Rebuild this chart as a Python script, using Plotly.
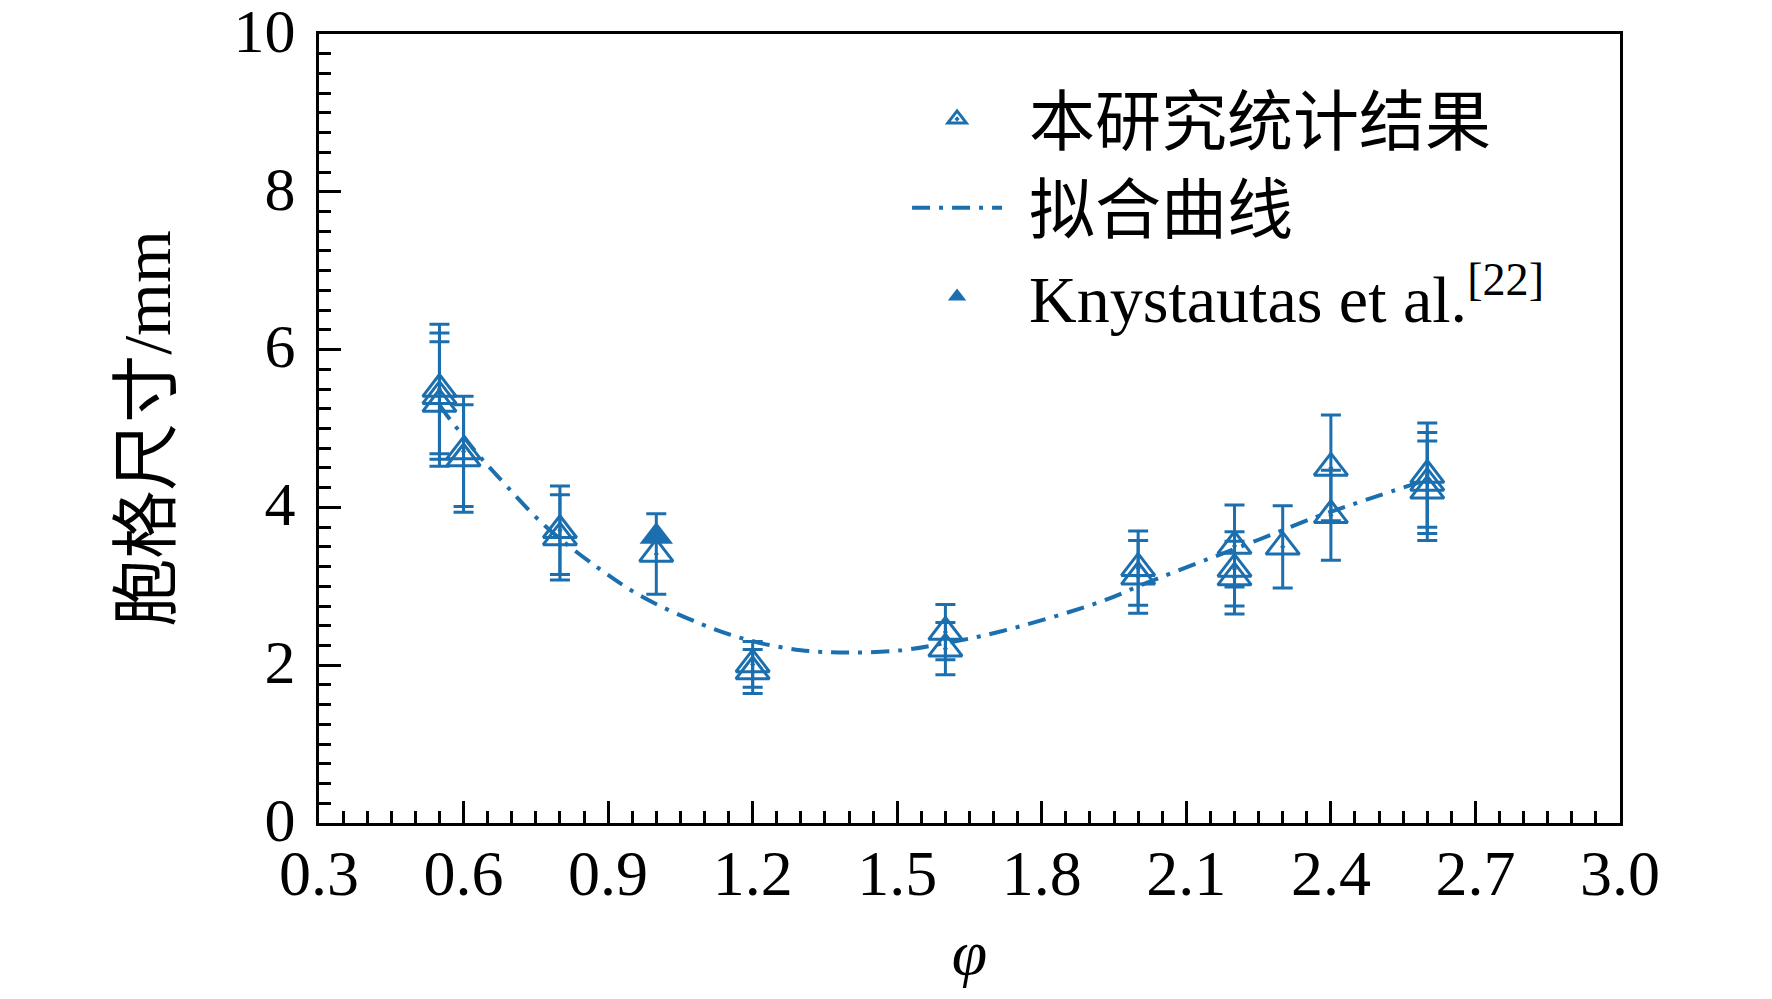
import plotly.graph_objects as go

# 本研究统计结果 (open triangles with error bars)
phi_exp = [0.55, 0.55, 0.55, 0.6, 0.6, 0.8, 0.8, 1.0, 1.2, 1.2, 1.6, 1.6,
           2.0, 2.0, 2.2, 2.2, 2.2, 2.3, 2.4, 2.4, 2.6, 2.6, 2.6]
cell_exp = [5.50, 5.41, 5.31, 4.71, 4.62, 3.71, 3.62, 3.41, 2.01, 1.92, 2.42, 2.21,
            3.23, 3.12, 3.51, 3.22, 3.11, 3.50, 4.50, 3.90, 4.41, 4.31, 4.21]
err_exp = [0.82, 0.80, 0.79, 0.70, 0.68, 0.56, 0.54, 0.51, 0.29, 0.28, 0.35, 0.33,
           0.47, 0.46, 0.52, 0.47, 0.46, 0.52, 0.67, 0.57, 0.66, 0.64, 0.63]

# 拟合曲线
phi_fit = [0.55, 0.57, 0.60, 0.63, 0.67, 0.77, 0.88, 0.97, 1.09, 1.19, 1.30,
           1.40, 1.51, 1.60, 1.71, 1.92, 2.02, 2.13, 2.25, 2.37, 2.47, 2.60]
cell_fit = [5.30, 5.13, 4.90, 4.67, 4.40, 3.76, 3.23, 2.87, 2.53, 2.32, 2.19,
            2.16, 2.19, 2.28, 2.42, 2.80, 3.05, 3.31, 3.59, 3.88, 4.09, 4.35]

# Knystautas et al. [22]
phi_ref = [1.0]
cell_ref = [3.63]

x_ticks = [0.3, 0.6, 0.9, 1.2, 1.5, 1.8, 2.1, 2.4, 2.7, 3.0]
x_labels = ["0.3", "0.6", "0.9", "1.2", "1.5", "1.8", "2.1", "2.4", "2.7", "3.0"]
y_ticks = [0, 2, 4, 6, 8, 10]

blue = "#1b6faf"
serif = "Liberation Serif, Noto Sans CJK SC"
gap = "\u2004"  # small gap between legend symbol and text

fig = go.Figure()
fig.add_trace(go.Scatter(
    x=phi_exp, y=cell_exp, mode="markers", name=gap + "本研究统计结果",
    marker=dict(symbol="triangle-up-open-dot", size=29, color=blue,
                line=dict(width=3, color=blue)),
    error_y=dict(type="data", array=err_exp, visible=True,
                 color=blue, thickness=3, width=10),
))
fig.add_trace(go.Scatter(
    x=phi_fit, y=cell_fit, mode="lines", name=gap + "拟合曲线",
    line=dict(color=blue, width=4, dash="18px,9px,4px,9px", shape="spline"),
))
fig.add_trace(go.Scatter(
    x=phi_ref, y=cell_ref, mode="markers",
    name=gap + "Knystautas et al.<sup>[22]</sup>",
    marker=dict(symbol="triangle-up", size=29, color=blue),
))

axis_common = dict(
    showline=True, linecolor="black", linewidth=3, mirror=True,
    ticks="inside", tickcolor="black", tickwidth=3, ticklen=22,
    showgrid=False, zeroline=False, ticklabeloverflow="allow",
    automargin=False,
)

fig.update_xaxes(
    range=[0.3, 3.0], tickvals=x_ticks, ticktext=x_labels,
    minor=dict(ticks="inside", dtick=0.05, tick0=0.3, ticklen=12,
               tickwidth=3, tickcolor="black", showgrid=False),
    tickfont=dict(family=serif, size=64, color="black"),
    title=dict(text="<i>φ</i>", font=dict(family=serif, size=64, color="black"),
               standoff=22),
    ticklabelstandoff=-8,
    **axis_common,
)
fig.update_yaxes(
    range=[0, 10], tickvals=y_ticks,
    minor=dict(ticks="inside", dtick=0.25, tick0=0, ticklen=12,
               tickwidth=3, tickcolor="black", showgrid=False),
    tickfont=dict(family=serif, size=62, color="black"),
    title=dict(text="胞格尺寸/mm", font=dict(family=serif, size=68, color="black"),
               standoff=41),
    ticklabelstandoff=8, ticklabelshift=-4,
    **axis_common,
)

fig.update_layout(
    width=1772, height=999,
    margin=dict(l=319, r=152, t=34, b=176),
    plot_bgcolor="white", paper_bgcolor="white",
    showlegend=True,
    legend=dict(x=0.452, y=0.955, xanchor="left", yanchor="top",
                bgcolor="rgba(0,0,0,0)", itemwidth=90,
                font=dict(family=serif, size=66, color="black"),
                tracegroupgap=0),
)

fig.write_html("out.html", config={"displayModeBar": False},
               post_script="document.body.style.margin='0';")
